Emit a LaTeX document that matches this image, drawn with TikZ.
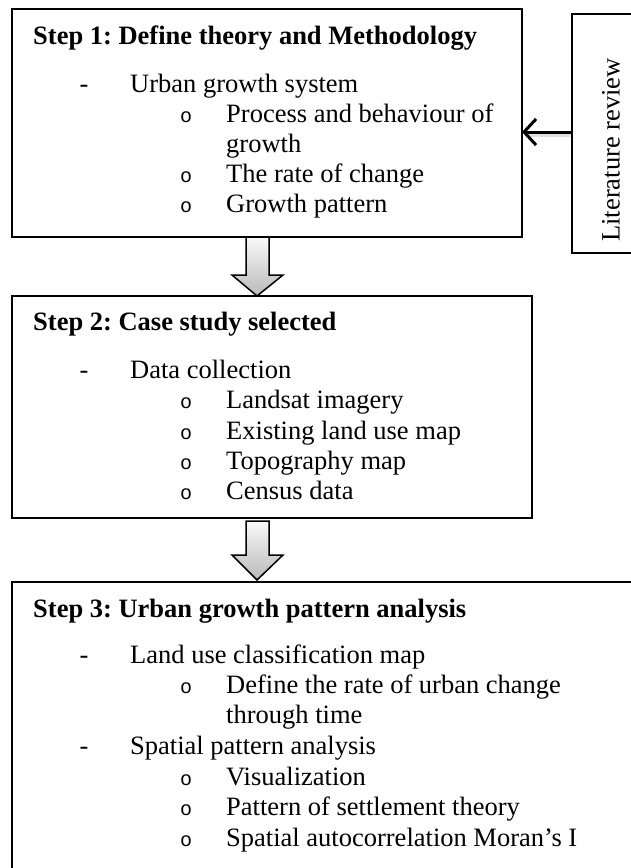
\documentclass[tikz,border=0pt]{standalone}
\usepackage{fontspec}
\setmainfont{Liberation Serif}
\newfontfamily\monofnt{Liberation Mono}
\usetikzlibrary{arrows.meta}
\frenchspacing

\begin{document}
\begin{tikzpicture}[x=1pt,y=-1pt,
  box/.style={draw=black,line width=1.5pt,rectangle,inner sep=0pt,outer sep=0pt,anchor=north west},
  txt/.style={anchor=base west,inner sep=0pt,font=\fontsize{26.5}{30}\selectfont},
  headtxt/.style={anchor=base west,inner sep=0pt,font=\fontsize{26.5}{30}\selectfont\bfseries},
  dashmark/.style={anchor=base,inner sep=0pt,font=\fontsize{26.5}{30}\selectfont},
  circmark/.style={anchor=base,inner sep=0pt,font=\fontsize{20}{30}\monofnt},
  blk/.style={draw=black,line width=1.5pt,top color=gray!4,bottom color=gray!55},
  litarrow/.style={line width=3pt,-{Straight Barb[length=12pt,width=26pt,line width=3pt]}},
]
\clip (0,0) rectangle (631,868);
\fill[white] (0,0) rectangle (631,868);

% boxes
\node[box,minimum width=510pt,minimum height=228pt] (b1) at (12,9) {};
\node[box,minimum width=520pt,minimum height=222pt] (b2) at (12,296) {};
\node[box,minimum width=640pt,minimum height=320pt] (b3) at (12,582) {};
\node[box,minimum width=90pt,minimum height=239pt] (lit) at (572,14) {};
\node[rotate=90,inner sep=0pt,font=\fontsize{26.5}{30}\selectfont] (littext) at (611,150) {Literature review};

% literature arrow
\coordinate (ay) at (0,132);
\draw[gray!60,opacity=0.4,line width=3pt] ([xshift=-1pt,yshift=-3pt]lit.west |- ay) -- ([xshift=4pt,yshift=-3pt]b1.east |- ay);
\draw[litarrow] (lit.west |- ay) -- (b1.east |- ay);

% block arrows
\coordinate (t1) at (257,296);
\coordinate (t2) at (257,580);
\filldraw[blk] (b1.south -| 246,0) -- (269,237) -- (269,275) -- (283,275) -- (t1) -- (232,275) -- (246,275) -- cycle;
\filldraw[blk] (246,521) -- (269,521) -- (269,555) -- (283,555) -- (t2) -- (232,555) -- (246,555) -- cycle;

% box 1 text
\node[headtxt] (h1) at (33,44) {Step 1: Define theory and Methodology};
\node[dashmark] (d11) at (84,92) {-};
\node[txt] (i11) at (130,92) {Urban growth system};
\node[circmark] (c11) at (186,122) {o};
\node[txt] (i12) at (226,122) {Process and behaviour of};
\node[txt] (i13) at (226,152) {growth};
\node[circmark] (c12) at (186,182) {o};
\node[txt] (i14) at (226,182) {The rate of change};
\node[circmark] (c13) at (186,212) {o};
\node[txt] (i15) at (226,212) {Growth pattern};

% box 2 text
\node[headtxt] (h2) at (33,330) {Step 2: Case study selected};
\node[dashmark] (d21) at (84,378) {-};
\node[txt] (i21) at (130,378) {Data collection};
\node[circmark] (c21) at (186,408) {o};
\node[txt] (i22) at (226,408) {Landsat imagery};
\node[circmark] (c22) at (186,439) {o};
\node[txt] (i23) at (226,439) {Existing land use map};
\node[circmark] (c23) at (186,469) {o};
\node[txt] (i24) at (226,469) {Topography map};
\node[circmark] (c24) at (186,499) {o};
\node[txt] (i25) at (226,499) {Census data};

% box 3 text
\node[headtxt] (h3) at (33,617) {Step 3: Urban growth pattern analysis};
\node[dashmark] (d31) at (84,663) {-};
\node[txt] (i31) at (130,663) {Land use classification map};
\node[circmark] (c31) at (186,693) {o};
\node[txt] (i32) at (226,693) {Define the rate of urban change};
\node[txt] (i33) at (226,723) {through time};
\node[dashmark] (d32) at (84,754) {-};
\node[txt] (i34) at (130,754) {Spatial pattern analysis};
\node[circmark] (c32) at (186,785) {o};
\node[txt] (i35) at (226,785) {Visualization};
\node[circmark] (c33) at (186,815) {o};
\node[txt] (i36) at (226,815) {Pattern of settlement theory};
\node[circmark] (c34) at (186,846) {o};
\node[txt] (i37) at (226,846) {Spatial autocorrelation Moran’s I};
\end{tikzpicture}
\end{document}
